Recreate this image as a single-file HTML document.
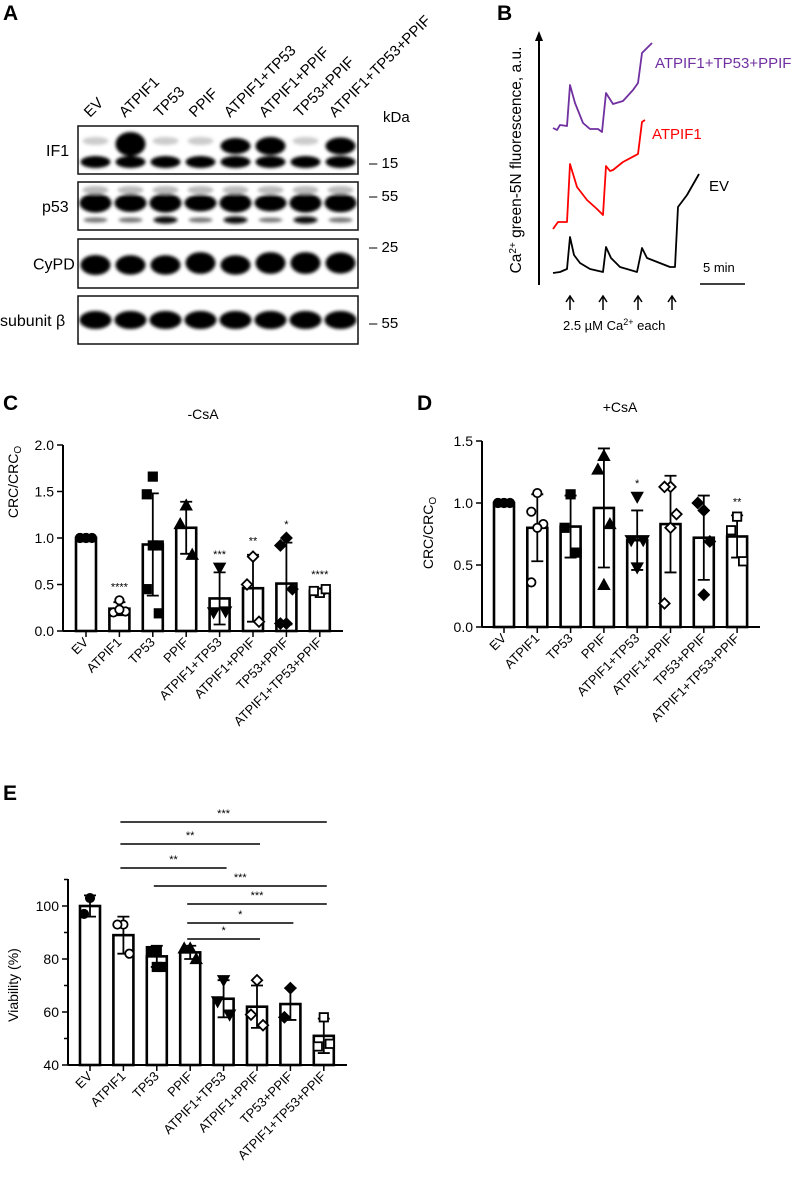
<!DOCTYPE html>
<html><head><meta charset="utf-8"><style>
html,body{margin:0;padding:0;background:#fff}
svg{display:block;font-family:"Liberation Sans",sans-serif}
</style></head><body>
<svg id="fig" width="794" height="1185" viewBox="0 0 794 1185" xmlns="http://www.w3.org/2000/svg">
<defs>
<filter id="blur" x="-20%" y="-50%" width="140%" height="200%"><feGaussianBlur stdDeviation="1.6"/></filter>
</defs>
<g font-weight="bold" font-size="21">
<text x="3" y="20">A</text>
<text x="497" y="20">B</text>
<text x="3" y="410">C</text>
<text x="417" y="410">D</text>
<text x="3" y="800">E</text>
</g>
<g id="panelA"></g>
<g id="panelB"></g>
<g id="panelC"></g>
<g id="panelD"></g>
<g id="panelE"></g>
</svg>
<script>
const NS="http://www.w3.org/2000/svg";
function mk(parent,tag,attrs,txt){const e=document.createElementNS(NS,tag);for(const k in attrs)e.setAttribute(k,attrs[k]);if(txt!==undefined)e.textContent=txt;parent.appendChild(e);return e;}

const categories=["EV","ATPIF1","TP53","PPIF","ATPIF1+TP53","ATPIF1+PPIF","TP53+PPIF","ATPIF1+TP53+PPIF"];
const markerShapes=["circleF","circleO","squareF","triUpF","triDownF","diamondO","diamondF","squareO"];

const cMeans=[1.0,0.24,0.93,1.11,0.35,0.46,0.51,0.43];
const cSD=[0,0.07,0.55,0.28,0.28,0.36,0.44,0.03];
const cPoints=[[1,1,1,1,1],[0.33,0.2,0.21,0.23],[1.66,1.47,0.92,0.92,0.45,0.19],[1.35,1.15,0.82],[0.68,0.2,0.21],[0.8,0.5,0.1],[1.0,0.92,0.45,0.08,0.08],[0.41,0.43,0.45]];
const cStars=["","****","","","***","**","*","****"];
const cTicks=[0,0.5,1.0,1.5,2.0];
const dMeans=[1.0,0.80,0.81,0.96,0.70,0.83,0.72,0.73];
const dSD=[0,0.27,0.25,0.48,0.24,0.39,0.34,0.17];
const dPoints=[[1,1,1,1,1],[1.08,0.93,0.83,0.8,0.36],[1.07,0.8,0.6],[1.38,1.27,0.83,0.34],[1.05,0.7,0.7,0.48],[1.13,1.13,0.91,0.8,0.19],[0.94,1.0,0.69,0.26],[0.89,0.78,0.53]];
const dStars=["","","","","*","","","**"];
const dTicks=[0,0.5,1.0,1.5];
const eMeans=[100,89,81,82.5,65,62,63,51];
const eSD=[4,7,4,2.5,7,8,6,6.5];
const ePoints=[[103,97],[93,93,82],[83,83,77,77],[84,84,80],[72,64,59],[72,59,55],[69,58],[58,47,48]];
const eTicks=[40,60,80,100];
const eCompA=[1,1,1,2,3,3,3];
const eCompB=[7,5,4,7,7,6,5];
const eCompStars=["***","**","**","***","***","*","*"];
const eCompLevel=[822,844,868,886,904,923,939];

function marker(g,shape,x,y){
  const s=4.2;let e;
  const fill=shape.endsWith("F")?"#000":"#fff";
  if(shape.startsWith("circle")) e=mk(g,"circle",{cx:x,cy:y,r:s});
  else if(shape.startsWith("square")) e=mk(g,"rect",{x:x-s,y:y-s,width:2*s,height:2*s});
  else if(shape.startsWith("triUp")) e=mk(g,"polygon",{points:`${x},${y-s-1} ${x-s-1},${y+s} ${x+s+1},${y+s}`});
  else if(shape.startsWith("triDown")) e=mk(g,"polygon",{points:`${x},${y+s+1} ${x-s-1},${y-s} ${x+s+1},${y-s}`});
  else e=mk(g,"polygon",{points:`${x},${y-s-1} ${x+s+1},${y} ${x},${y+s+1} ${x-s-1},${y}`});
  e.setAttribute("fill",fill);e.setAttribute("stroke","#000");e.setAttribute("stroke-width","1.8");
  
  
}

function barChart(g,o){
  const yS=v=>o.y0-(v-o.vmin)/(o.vmax-o.vmin)*(o.y0-o.yTopVal);
  const xS=i=>o.x0+o.first+i*o.step;
  const ya=mk(g,"line",{x1:o.x0,y1:o.y0,x2:o.x0,y2:o.axisTop,stroke:"#000","stroke-width":2});
  
  const xa=mk(g,"line",{x1:o.x0,y1:o.y0,x2:o.xEnd,y2:o.y0,stroke:"#000","stroke-width":2});
  
  o.ticks.forEach(t=>{
    mk(g,"line",{x1:o.x0-6,x2:o.x0,y1:yS(t),y2:yS(t),stroke:"#000","stroke-width":1.5});
    const tl=mk(g,"text",{x:o.x0-9,y:yS(t)+5,"text-anchor":"end","font-size":14},o.fmt(t));
    
  });
  if(o.minor) o.minor.forEach(t=>mk(g,"line",{x1:o.x0-4,x2:o.x0,y1:yS(t),y2:yS(t),stroke:"#000","stroke-width":1.5}));
  categories.forEach((c,i)=>{
    const x=xS(i);
    mk(g,"line",{x1:x,x2:x,y1:o.y0,y2:o.y0+6,stroke:"#000","stroke-width":1.5});
    const bar=mk(g,"rect",{x:x-10,y:yS(o.means[i]),width:20,height:o.y0-yS(o.means[i]),fill:"#fff",stroke:"#000","stroke-width":2.6});
    
    
    const lab=mk(g,"text",{x:x+3,y:o.y0+12,"text-anchor":"end","font-size":13,transform:`rotate(-45 ${x+3} ${o.y0+12})`},c);
    
    if(o.sd[i]>0){
      const hi=yS(o.means[i]+o.sd[i]),lo=yS(o.means[i]-o.sd[i]);
      const eb=mk(g,"path",{d:`M${x},${hi}V${lo}M${x-6},${hi}H${x+6}M${x-6},${lo}H${x+6}`,stroke:"#000","stroke-width":1.8,fill:"none"});
      
    }
    const pts=o.points[i];
    pts.forEach((v,j)=>{
      const off=pts.length>1?(j%3===0?0:(j%3===1?-6:6)):0;
      marker(g,markerShapes[i],x+off,yS(v));
    });
    if(o.stars&&o.stars[i]){
      const top=Math.max(o.means[i]+o.sd[i],Math.max(...pts));
      const st=mk(g,"text",{x:x,y:yS(top)-10,"text-anchor":"middle","font-size":11},o.stars[i]);
      
    }
  });
  const yl=mk(g,"text",{x:o.ylx,y:o.yly,"text-anchor":"middle","font-size":14,transform:`rotate(-90 ${o.ylx} ${o.yly})`});
  
  if(o.sub){yl.textContent="CRC/CRC";mk(yl,"tspan",{"font-size":10,dy:3},"O");}else yl.textContent=o.ylabel;
  if(o.title){const t=mk(g,"text",{x:o.tx,y:o.ty,"text-anchor":"middle","font-size":14},o.title);
    }
  return {xS,yS};
}

barChart(document.getElementById("panelC"),{x0:63,y0:631,yTopVal:445,axisTop:445,vmin:0,vmax:2,xEnd:343,first:23,step:33.4,
  ticks:cTicks,fmt:t=>t.toFixed(1),means:cMeans,sd:cSD,points:cPoints,stars:cStars,ylx:18,yly:482,sub:true,title:"-CsA",tx:203,ty:419});
barChart(document.getElementById("panelD"),{x0:482,y0:627,yTopVal:441,axisTop:441,vmin:0,vmax:1.5,xEnd:760,first:22,step:33.3,
  ticks:dTicks,fmt:t=>t.toFixed(1),means:dMeans,sd:dSD,points:dPoints,stars:dStars,ylx:433,yly:533,sub:true,title:"+CsA",tx:620,ty:412});
const E=barChart(document.getElementById("panelE"),{x0:68,y0:1065,yTopVal:906,axisTop:879,vmin:40,vmax:100,xEnd:347,first:22,step:33.4,
  ticks:eTicks,minor:[50,70,90,110],fmt:t=>String(t),means:eMeans,sd:eSD,points:ePoints,stars:null,ylx:18,yly:985,ylabel:"Viability (%)"});
const gE=document.getElementById("panelE");
eCompA.forEach((a,k)=>{
  const x1=E.xS(a)-3,x2=E.xS(eCompB[k])+3,y=eCompLevel[k];
  const l=mk(gE,"line",{x1:x1,x2:x2,y1:y,y2:y,stroke:"#000","stroke-width":1.6});
  
  const s=mk(gE,"text",{x:(x1+x2)/2,y:y-5,"text-anchor":"middle","font-size":11},eCompStars[k]);
  
});

// Panel A
const gA=document.getElementById("panelA");
const laneX0=78,laneW=35;
categories.forEach((c,i)=>{
  const x=laneX0+laneW*i+12,y=118;
  const t=mk(gA,"text",{x:x,y:y,"font-size":15,transform:`rotate(-45 ${x} ${y})`},c);
  
});
const kd=mk(gA,"text",{x:383,y:122,"font-size":15},"kDa");
const boxes=[[126,174,"IF1",46],[182,230,"p53",42],[239,288,"CyPD",33],[296,344,"subunit β",0]];
const markersKDa=[["15",163],["55",196],["25",247],["55",323]];
const if1Upper=[0,1.6,0,0,0.8,1,0,0.9];
const p53Main=[1.2,1,1.2,0.8,1.2,0.8,1.2,1.1];
const p53Low=[0.3,0.3,0.8,0.3,0.8,0.2,0.8,0.3];
const cypd=[1,0.9,0.9,1.3,0.9,1.3,1.3,1.2];
boxes.forEach((b,k)=>{
  const r=mk(gA,"rect",{x:78,y:b[0],width:280,height:b[1]-b[0],fill:"#fff",stroke:"#111","stroke-width":1.5});
  
  const lab=mk(gA,"text",{x:b[3]===0?0:b[3],y:(b[0]+b[1])/2+6,"font-size":16},b[2]);
  
});
markersKDa.forEach(m=>{const t=mk(gA,"text",{x:369,y:m[1]+5,"font-size":15},"– "+m[0]);
  });
const bandG=mk(gA,"g",{filter:"url(#blur)",fill:"#000"});
for(let i=0;i<8;i++){
  const cx=laneX0+laneW*i+17.5;
  mk(bandG,"ellipse",{cx:cx,cy:162,rx:15,ry:6});
  if(if1Upper[i]>0) mk(bandG,"ellipse",{cx:cx,cy:146-(if1Upper[i]>1.2?2:0),rx:15,ry:4+5*if1Upper[i]});
  else mk(bandG,"ellipse",{cx:cx,cy:141,rx:13,ry:4,fill:"#ccc"});
  mk(bandG,"ellipse",{cx:cx,cy:203,rx:16,ry:6+3*p53Main[i]});
  mk(bandG,"ellipse",{cx:cx,cy:220,rx:12,ry:2+2*p53Low[i],fill:p53Low[i]>0.5?"#111":"#777"});
  mk(bandG,"ellipse",{cx:cx,cy:190,rx:13,ry:4,fill:"#bbb"});
  mk(bandG,"ellipse",{cx:cx,cy:265-(cypd[i]>1.1?2:0),rx:15,ry:7+3*cypd[i]});
  mk(bandG,"ellipse",{cx:cx,cy:320,rx:16,ry:9});
}

// Panel B
const gB=document.getElementById("panelB");
const tracePurple=[[553,128],[557,130],[560,125],[567,126],[570,85],[575,103],[583,123],[590,129],[598,129],[602,132],[606,93],[613,104],[623,101],[633,90],[638,83],[642,53],[652,43]];
const traceRed=[[553,229],[558,222],[567,222],[570,164],[577,187],[587,200],[597,209],[603,215],[606,166],[610,171],[613,170],[623,162],[638,154],[642,122],[645,120]];
const traceBlack=[[553,273],[560,272],[567,269],[570,237],[574,255],[580,263],[590,269],[603,272],[606,247],[611,258],[620,267],[637,272],[642,248],[647,258],[670,267],[675,267],[678,207],[687,195],[699,174]];
[[tracePurple,"#7030a0","trace-atpif1-tp53-ppif"],[traceRed,"#ff0000","trace-atpif1"],[traceBlack,"#000","trace-ev"]].forEach(t=>{
  const p=mk(gB,"polyline",{points:t[0].map(q=>q.join(",")).join(" "),fill:"none",stroke:t[1],"stroke-width":1.8,"stroke-linejoin":"round"});
  
});
const ax=mk(gB,"path",{d:"M539,285V36",stroke:"#000","stroke-width":2,fill:"none"});
mk(gB,"polygon",{points:"539,31 535,41 543,41",fill:"#000"});
const l1=mk(gB,"text",{x:655,y:68,"font-size":15,fill:"#7030a0"},"ATPIF1+TP53+PPIF");
const l2=mk(gB,"text",{x:652,y:139,"font-size":15,fill:"#ff0000"},"ATPIF1");
const l3=mk(gB,"text",{x:709,y:191,"font-size":15,fill:"#000"},"EV");
const sb=mk(gB,"line",{x1:700,x2:745,y1:284,y2:284,stroke:"#000","stroke-width":1.5});
const sbt=mk(gB,"text",{x:703,y:272,"font-size":13},"5 min");
[570,603,638,672].forEach(x=>{const a=mk(gB,"path",{d:`M${x},310V297M${x-4},302L${x},296L${x+4},302`,stroke:"#000","stroke-width":1.5,fill:"none"});
  });
const ca=mk(gB,"text",{x:563,y:330,"font-size":13},"2.5 µM Ca");mk(ca,"tspan",{"font-size":9,dy:-5},"2+");mk(ca,"tspan",{dy:5}," each");

const yb=mk(gB,"text",{x:521,y:160,"font-size":15.5,"text-anchor":"middle",transform:"rotate(-90 521 160)"},"Ca");
mk(yb,"tspan",{"font-size":10,dy:-5},"2+");mk(yb,"tspan",{dy:5}," green-5N fluorescence, a.u.");

</script>
</body></html>
